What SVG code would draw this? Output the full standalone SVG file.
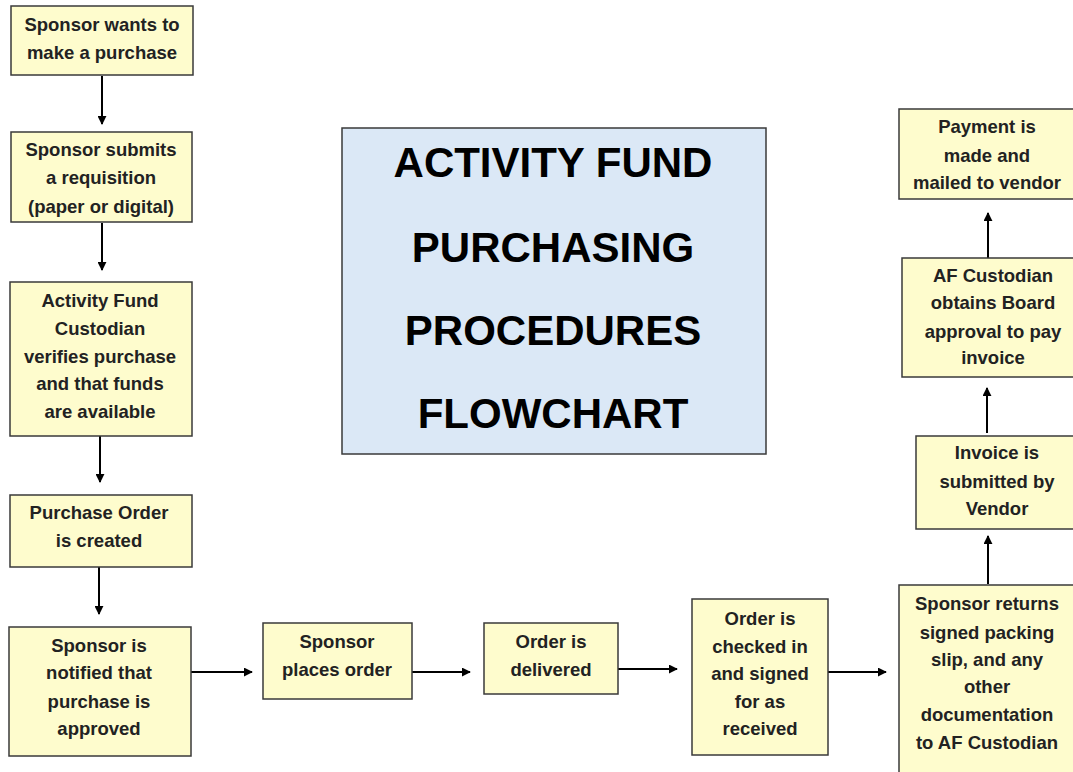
<svg xmlns="http://www.w3.org/2000/svg" width="1073" height="772" viewBox="0 0 1073 772">
  <defs>
    <marker id="arrow" viewBox="0 0 10 10" refX="9" refY="5" markerWidth="4.5" markerHeight="4.5" orient="auto" markerUnits="strokeWidth">
      <path d="M0,0 L10,5 L0,10 z" fill="#000"/>
    </marker>
    <style>
      .box { fill: #fefccd; stroke: #3a3a3a; stroke-width: 1.5; }
      .title-box { fill: #dbe8f6; stroke: #3a3a3a; stroke-width: 1.5; }
      .lbl { font-family: "Liberation Sans", Arial, sans-serif; font-weight: bold; font-size: 18.5px; fill: #222; text-anchor: middle; }
      .title { font-family: "Liberation Sans", Arial, sans-serif; font-weight: bold; font-size: 42px; fill: #000; text-anchor: middle; }
      .conn { stroke: #000; stroke-width: 2; fill: none; marker-end: url(#arrow); }
    </style>
  </defs>
  <rect width="1073" height="772" fill="#fff"/>

  <!-- title panel -->
  <g id="title">
    <rect class="title-box" x="342" y="128" width="424" height="326"/>
    <text class="title" x="553" y="177">ACTIVITY FUND</text>
    <text class="title" x="553" y="262">PURCHASING</text>
    <text class="title" x="553" y="345">PROCEDURES</text>
    <text class="title" x="553" y="428">FLOWCHART</text>
  </g>

  <!-- connectors -->
  <g id="connectors">
    <line class="conn" x1="102" y1="76" x2="102" y2="124"/>
    <line class="conn" x1="102" y1="223" x2="102" y2="270"/>
    <line class="conn" x1="100" y1="436" x2="100" y2="482"/>
    <line class="conn" x1="99" y1="567" x2="99" y2="614"/>
    <line class="conn" x1="191" y1="672" x2="252" y2="672"/>
    <line class="conn" x1="412" y1="672" x2="470" y2="672"/>
    <line class="conn" x1="618" y1="669" x2="677" y2="669"/>
    <line class="conn" x1="828" y1="672" x2="886" y2="672"/>
    <line class="conn" x1="988" y1="584" x2="988" y2="536"/>
    <line class="conn" x1="987" y1="433" x2="987" y2="388"/>
    <line class="conn" x1="988" y1="258" x2="988" y2="213"/>
  </g>

  <g id="n1">
    <rect class="box" x="11" y="6" width="182" height="69"/>
    <text class="lbl" x="102" y="31">Sponsor wants to</text>
    <text class="lbl" x="102" y="59">make a purchase</text>
  </g>

  <g id="n2">
    <rect class="box" x="11" y="132" width="181" height="90"/>
    <text class="lbl" x="101" y="156">Sponsor submits</text>
    <text class="lbl" x="101" y="184">a requisition</text>
    <text class="lbl" x="101" y="213">(paper or digital)</text>
  </g>

  <g id="n3">
    <rect class="box" x="10" y="282" width="182" height="154"/>
    <text class="lbl" x="100" y="307">Activity Fund</text>
    <text class="lbl" x="100" y="335">Custodian</text>
    <text class="lbl" x="100" y="363">verifies purchase</text>
    <text class="lbl" x="100" y="390">and that funds</text>
    <text class="lbl" x="100" y="418">are available</text>
  </g>

  <g id="n4">
    <rect class="box" x="10" y="495" width="182" height="72"/>
    <text class="lbl" x="99" y="519">Purchase Order</text>
    <text class="lbl" x="99" y="547">is created</text>
  </g>

  <g id="n5">
    <rect class="box" x="9" y="627" width="182" height="129"/>
    <text class="lbl" x="99" y="652">Sponsor is</text>
    <text class="lbl" x="99" y="679">notified that</text>
    <text class="lbl" x="99" y="708">purchase is</text>
    <text class="lbl" x="99" y="735">approved</text>
  </g>

  <g id="n6">
    <rect class="box" x="263" y="623" width="149" height="76"/>
    <text class="lbl" x="337" y="648">Sponsor</text>
    <text class="lbl" x="337" y="676">places order</text>
  </g>

  <g id="n7">
    <rect class="box" x="484" y="623" width="134" height="71"/>
    <text class="lbl" x="551" y="648">Order is</text>
    <text class="lbl" x="551" y="676">delivered</text>
  </g>

  <g id="n8">
    <rect class="box" x="692" y="599" width="136" height="156"/>
    <text class="lbl" x="760" y="625">Order is</text>
    <text class="lbl" x="760" y="653">checked in</text>
    <text class="lbl" x="760" y="680">and signed</text>
    <text class="lbl" x="760" y="708">for as</text>
    <text class="lbl" x="760" y="735">received</text>
  </g>

  <g id="n9">
    <rect class="box" x="899" y="585" width="180" height="200"/>
    <text class="lbl" x="987" y="610">Sponsor returns</text>
    <text class="lbl" x="987" y="639">signed packing</text>
    <text class="lbl" x="987" y="666">slip, and any</text>
    <text class="lbl" x="987" y="693">other</text>
    <text class="lbl" x="987" y="721">documentation</text>
    <text class="lbl" x="987" y="749">to AF Custodian</text>
  </g>

  <g id="n10">
    <rect class="box" x="916" y="436" width="160" height="93"/>
    <text class="lbl" x="997" y="459">Invoice is</text>
    <text class="lbl" x="997" y="488">submitted by</text>
    <text class="lbl" x="997" y="515">Vendor</text>
  </g>

  <g id="n11">
    <rect class="box" x="902" y="258" width="175" height="119"/>
    <text class="lbl" x="993" y="282">AF Custodian</text>
    <text class="lbl" x="993" y="309">obtains Board</text>
    <text class="lbl" x="993" y="338">approval to pay</text>
    <text class="lbl" x="993" y="364">invoice</text>
  </g>

  <g id="n12">
    <rect class="box" x="899" y="109" width="178" height="90"/>
    <text class="lbl" x="987" y="133">Payment is</text>
    <text class="lbl" x="987" y="162">made and</text>
    <text class="lbl" x="987" y="189">mailed to vendor</text>
  </g>
</svg>
